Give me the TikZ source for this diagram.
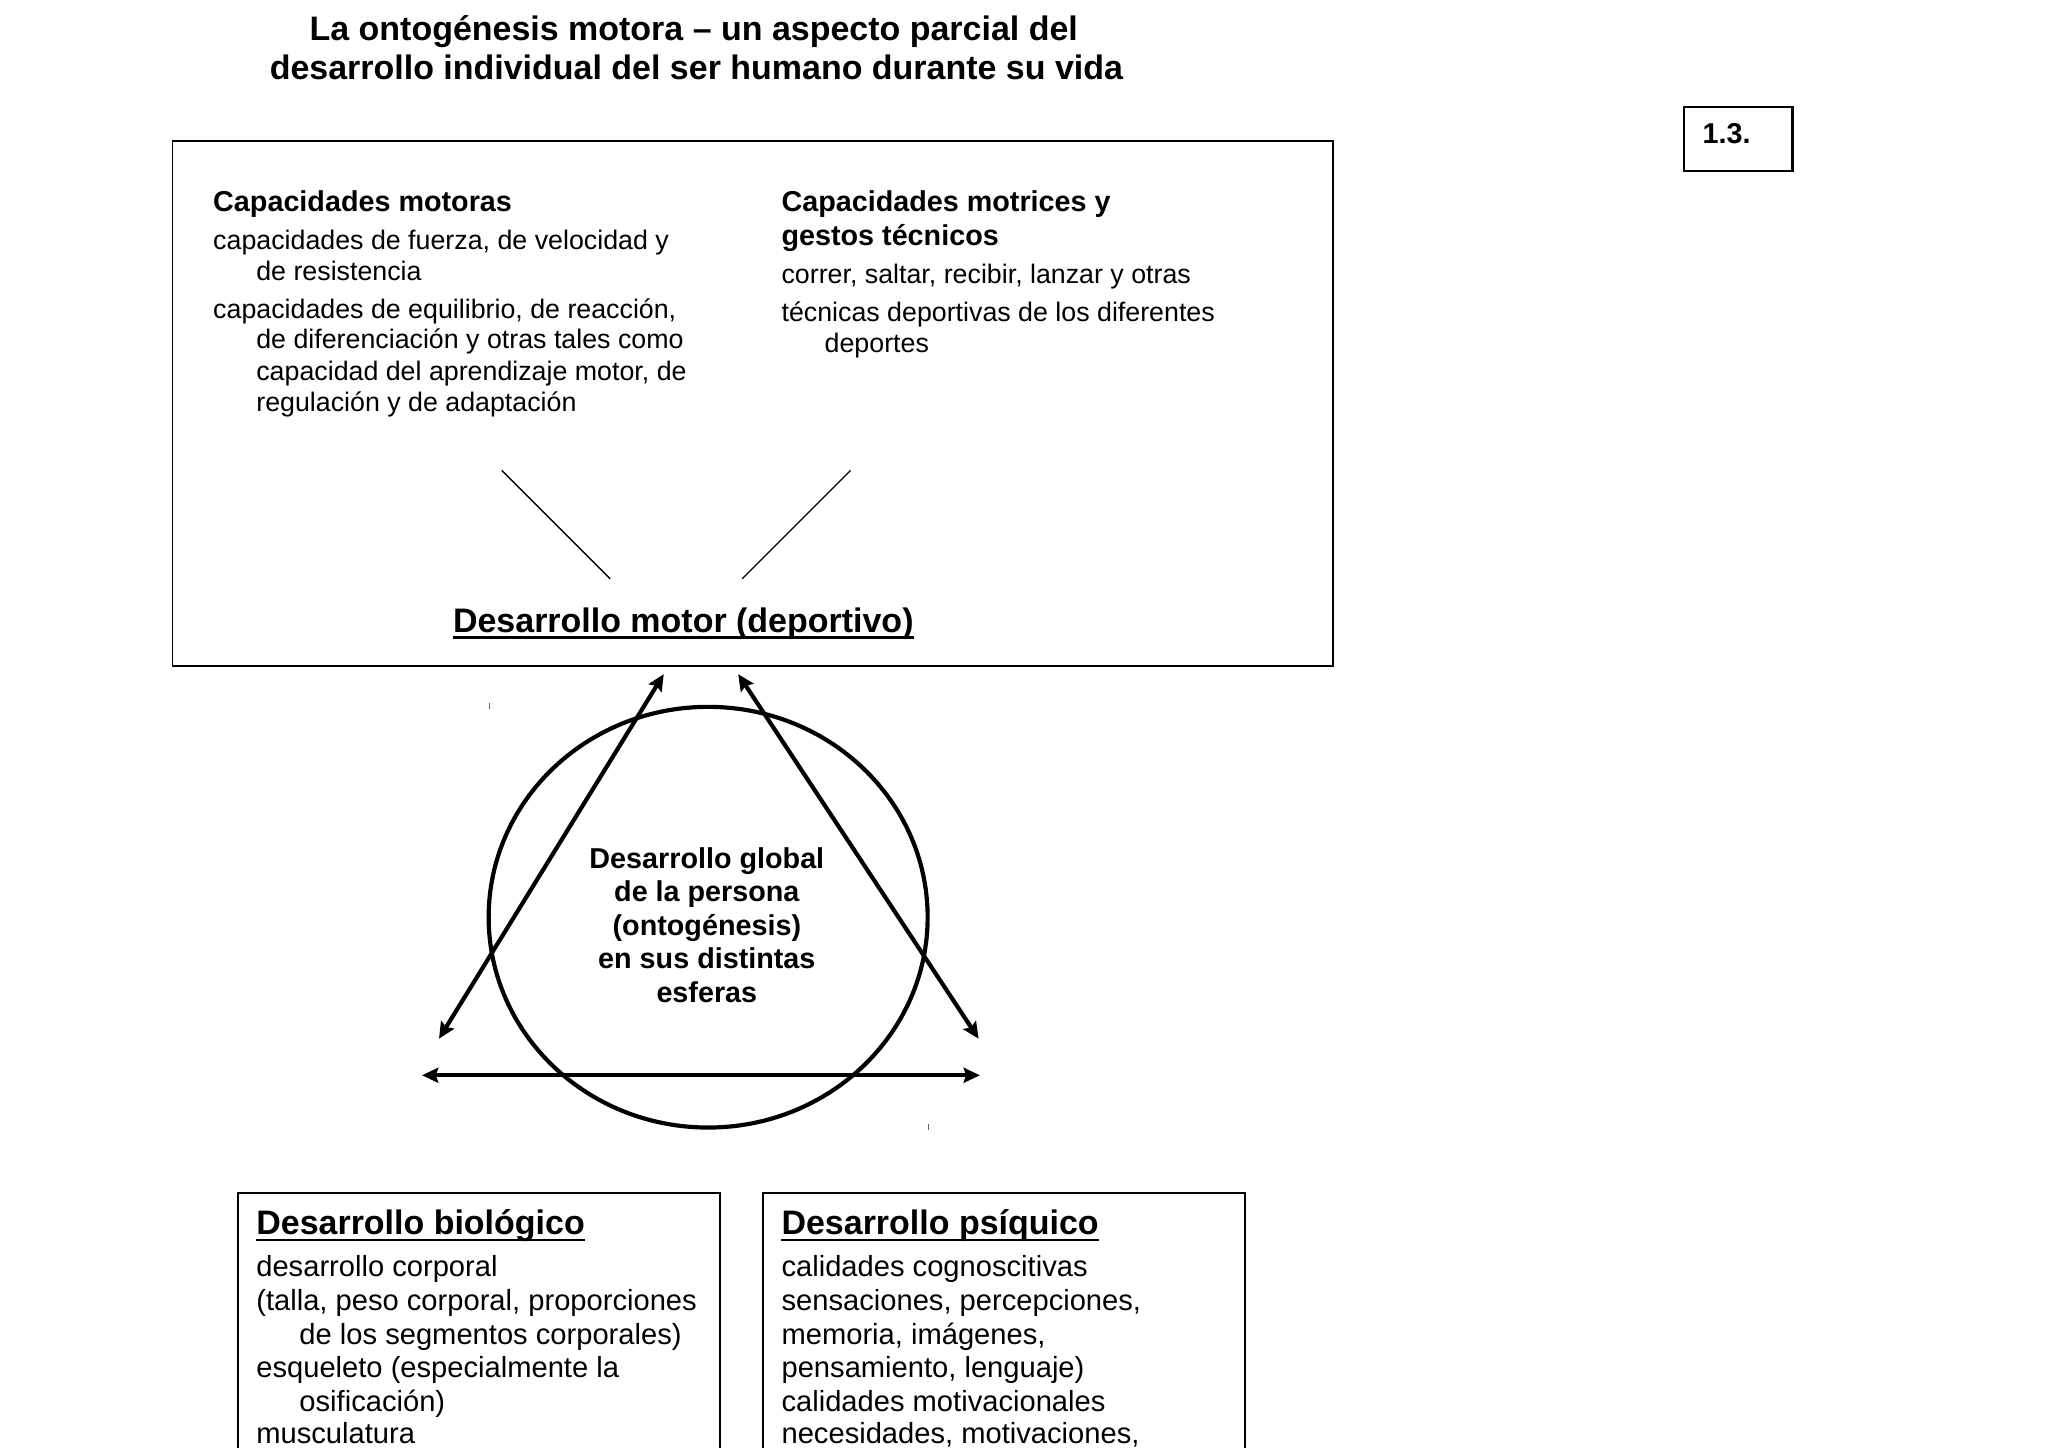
\documentclass[tikz,border=0pt]{standalone}
\usepackage{fontspec}
\setmainfont{Liberation Sans}
\usetikzlibrary{arrows.meta,shapes.geometric}
\begin{document}
\begin{tikzpicture}[x=1pt,y=-1pt,
  txt/.style={anchor=base west,inner sep=0pt,font=\fontsize{20.5}{24}\selectfont},
  hd/.style={anchor=base west,inner sep=0pt,font=\bfseries\fontsize{22}{26}\selectfont},
  big/.style={inner sep=0pt,font=\bfseries\fontsize{26}{30}\selectfont},
  btxt/.style={anchor=base west,inner sep=0pt,font=\fontsize{22.3}{25.6}\selectfont},
  frame/.style={draw=black,line width=1.3pt},
  thinline/.style={draw=black,line width=1pt},
  boldarrow/.style={draw=black,line width=3.2pt,{Stealth[length=12.5pt,width=11.5pt,inset=2pt]}-{Stealth[length=12.5pt,width=11.5pt,inset=2pt]}},
  uline/.style={draw=black,line width=2pt},
  speck/.style={draw=black!60,line width=0.8pt}]
\useasboundingbox (0,0) rectangle (1567.5,1107.6);
\clip (0,0) rectangle (1567.5,1107.6);
\fill[white] (0,0) rectangle (1567.5,1107.6);

% title
\node[big,anchor=base] (t1) at (531,31) {La ontogénesis motora – un aspecto parcial del};
\node[big,anchor=base] (t2) at (533,61) {desarrollo individual del ser humano durante su vida};

% number box
\draw[line width=2pt] (1289,82) rectangle (1372,131);
\node[hd] (num) at (1303,110) {1.3.};

% top box
\draw[frame] (132,108) rectangle (1020,510);
\node[hd] (cm) at (163,162) {Capacidades motoras};
\node[txt] (cm1) at (163,191) {capacidades de fuerza, de velocidad y};
\node[txt] (cm2) at (196,215) {de resistencia};
\node[txt] (cm3) at (163,244) {capacidades de equilibrio, de reacción,};
\node[txt] (cm4) at (196,267) {de diferenciación y otras tales como};
\node[txt] (cm5) at (196,291) {capacidad del aprendizaje motor, de};
\node[txt] (cm6) at (196,315) {regulación y de adaptación};

\node[hd] (cg) at (598,162) {Capacidades motrices y};
\node[hd] (cg0) at (598,188) {gestos técnicos};
\node[txt] (cg1) at (598,217) {correr, saltar, recibir, lanzar y otras};
\node[txt] (cg2) at (598,246) {técnicas deportivas de los diferentes};
\node[txt] (cg3) at (631,270) {deportes};

\coordinate (la) at (384,360); \coordinate (lb) at (467,443);
\coordinate (ra) at (651,360); \coordinate (rb) at (568,443);
\draw[thinline] (la) -- (lb);
\draw[thinline] (ra) -- (rb);

\node[big,anchor=base] (dm) at (523,484) {Desarrollo motor (deportivo)};
\draw[uline] ([yshift=-4pt]dm.base west) -- ([yshift=-4pt]dm.base east);

% circle and arrows
\node[draw=black,line width=3.2pt,ellipse,minimum width=336pt,minimum height=322pt,inner sep=0pt] (circ) at (542,702) {};
\node[inner sep=0pt,align=center,font=\bfseries\fontsize{22}{25.7}\selectfont] (glob) at (541,708)
  {Desarrollo global\\de la persona\\(ontogénesis)\\en sus distintas\\esferas};

\coordinate (p1) at (336,795); \coordinate (p2) at (508,516);
\coordinate (p3) at (565,516); \coordinate (p4) at (749,795);
\coordinate (p5) at (323,823); \coordinate (p6) at (750,823);
\draw[boldarrow] (p1) -- (p2);
\draw[boldarrow] (p3) -- (p4);
\draw[boldarrow] (p5) -- (p6);

\draw[speck] (375,538) -- (375,543);
\draw[speck] (711,860) -- (711,865);

% bottom boxes
\draw[frame] (182,913) rectangle (551,1130);
\draw[frame] (584,913) rectangle (953,1130);

\node[big,anchor=base west] (db) at (196,945) {Desarrollo biológico};
\draw[uline] ([yshift=-4pt]db.base west) -- ([yshift=-4pt]db.base east);
\node[btxt] (b1) at (196,977) {desarrollo corporal};
\node[btxt] (b2) at (196,1003) {(talla, peso corporal, proporciones};
\node[btxt] (b3) at (229,1029) {de los segmentos corporales)};
\node[btxt] (b4) at (196,1054) {esqueleto (especialmente la};
\node[btxt] (b5) at (229,1080) {osificación)};
\node[btxt] (b6) at (196,1105) {musculatura};

\node[big,anchor=base west] (dp) at (598,945) {Desarrollo psíquico};
\draw[uline] ([yshift=-4pt]dp.base west) -- ([yshift=-4pt]dp.base east);
\node[btxt] (q1) at (598,977) {calidades cognoscitivas};
\node[btxt] (q2) at (598,1003) {sensaciones, percepciones,};
\node[btxt] (q3) at (598,1029) {memoria, imágenes,};
\node[btxt] (q4) at (598,1054) {pensamiento, lenguaje)};
\node[btxt] (q5) at (598,1080) {calidades motivacionales};
\node[btxt] (q6) at (598,1105) {necesidades, motivaciones,};
\end{tikzpicture}
\end{document}
